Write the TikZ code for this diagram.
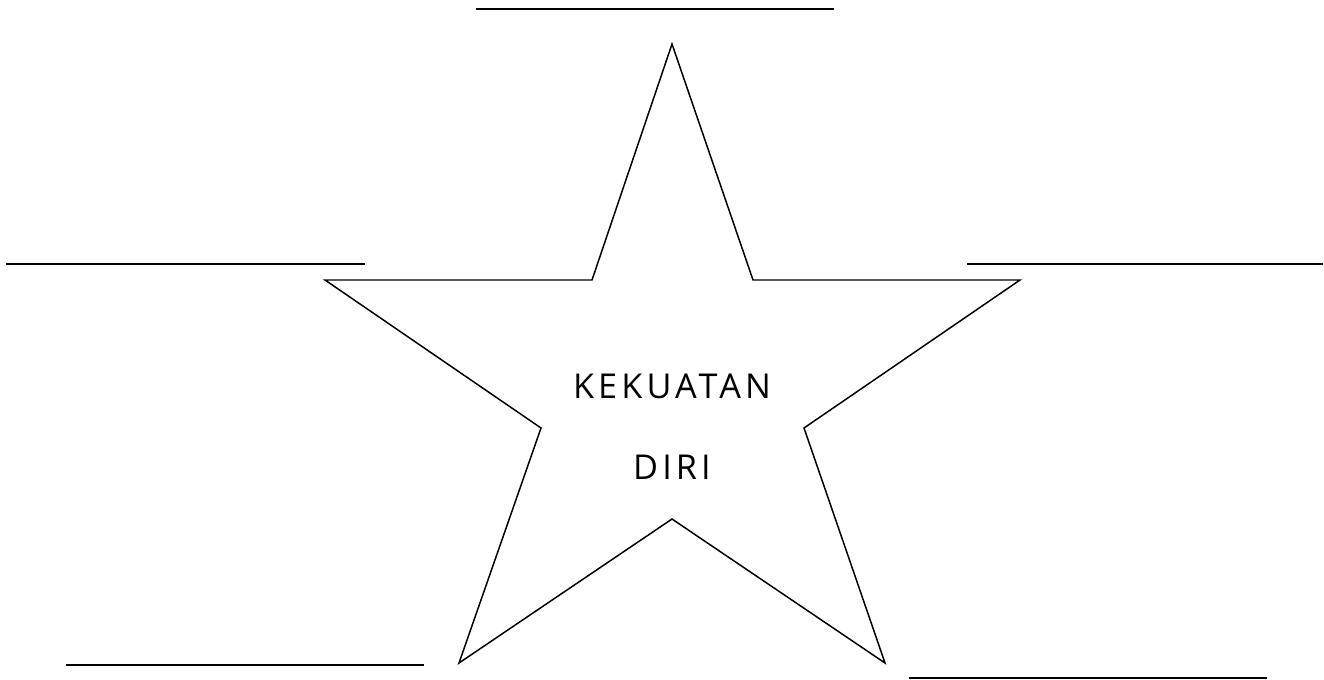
\documentclass[tikz,border=0pt]{standalone}
\usepackage{fontspec}
\newfontfamily\handfont[LetterSpace=12]{Open Sans}
\usepackage{tikz}
\usetikzlibrary{positioning}

\begin{document}
\begin{tikzpicture}[
  x=0.02cm, y=-0.02cm,
  blank/.style={line width=0.9pt},
  starline/.style={line width=0.85pt, line join=miter},
  word/.style={font=\handfont\fontsize{19.5}{22}\selectfont, inner sep=0pt},
]

\useasboundingbox (0,0) rectangle (1324,679);

% Star tips and inner corners
\coordinate (top) at (672,44);
\coordinate (ur) at (753,280);
\coordinate (rtip) at (1020,280);
\coordinate (ri) at (804,428);
\coordinate (brtip) at (885,663);
\coordinate (bi) at (672,519);
\coordinate (bltip) at (459,663);
\coordinate (li) at (541,428);
\coordinate (ltip) at (325,280);
\coordinate (ul) at (592,280);

\draw[starline] (top) -- (ur) -- (rtip) -- (ri) -- (brtip) -- (bi)
  -- (bltip) -- (li) -- (ltip) -- (ul) -- cycle;

% Text in the middle
\node[word] (kek) at (672,386) {KEKUATAN};
\node[word] (diri) at (672,467) {DIRI};

% Blank lines for writing
\draw[blank] (476,9) coordinate (t1) -- (834,9) coordinate (t2);
\draw[blank] (6,264) coordinate (l1) -- (365,264) coordinate (l2);
\draw[blank] (967,264) coordinate (r1) -- (1323,264) coordinate (r2);
\draw[blank] (66,665) coordinate (bl1) -- (424,665) coordinate (bl2);
\draw[blank] (909,678) coordinate (br1) -- (1267,678) coordinate (br2);

\end{tikzpicture}
\end{document}
